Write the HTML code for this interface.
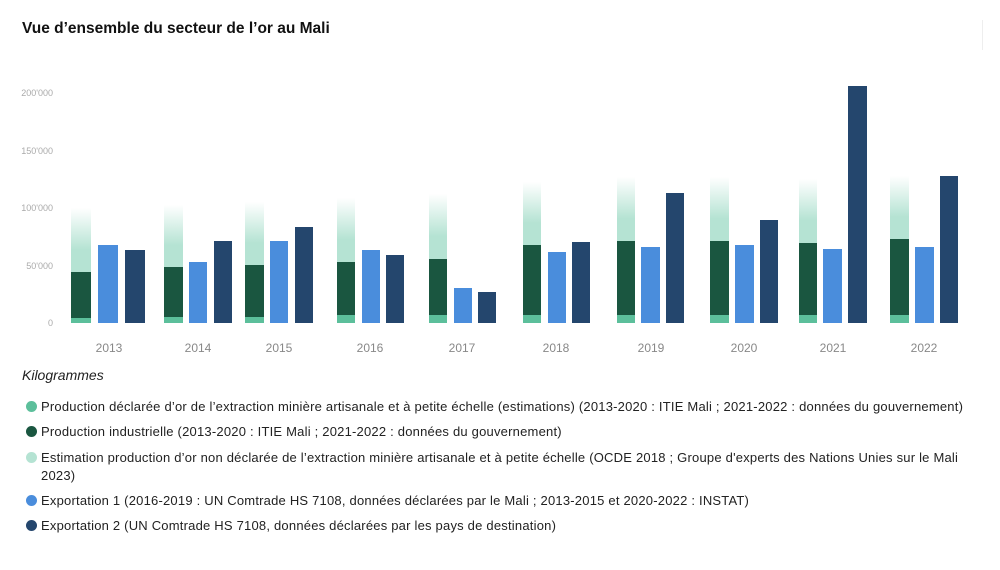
<!DOCTYPE html>
<html><head><meta charset="utf-8"><style>
body{margin:0;width:1000px;height:570px;background:#fff;font-family:"Liberation Sans",sans-serif;position:relative;overflow:hidden}
.t{position:absolute;left:22px;top:20px;font-size:15.5px;font-weight:bold;color:#111}
.k{position:absolute;left:22px;top:367px;font-size:14px;font-style:italic;color:#222}
.l{position:absolute;left:41px;font-size:13px;color:#222;line-height:18px;white-space:nowrap;letter-spacing:0.21px}
.d{position:absolute;left:26px;width:11px;height:11px;border-radius:50%}
</style></head><body>
<div class="t">Vue d’ensemble du secteur de l’or au Mali</div>
<div style="position:absolute;left:982px;top:20px;width:1px;height:30px;background:#eee"></div>
<svg width="1000" height="360" style="position:absolute;left:0;top:0">
<defs><linearGradient id="g" x1="0" y1="1" x2="0" y2="0"><stop offset="0" stop-color="#b5e3d3"/><stop offset="0.35" stop-color="#b5e3d3"/><stop offset="1" stop-color="#fff"/></linearGradient></defs>
<g font-size="9" fill="#aaa" text-anchor="end" font-family="Liberation Sans">
<text x="53" y="96">200'000</text><text x="53" y="154">150'000</text><text x="53" y="211">100'000</text><text x="53" y="269">50'000</text><text x="53" y="326">0</text></g>
<g font-size="12" fill="#888" text-anchor="middle" font-family="Liberation Sans">
<text x="109" y="352">2013</text><text x="198" y="352">2014</text><text x="279" y="352">2015</text><text x="370" y="352">2016</text><text x="462" y="352">2017</text><text x="556" y="352">2018</text><text x="651" y="352">2019</text><text x="744" y="352">2020</text><text x="833" y="352">2021</text><text x="924" y="352">2022</text></g>
<g>
<rect x="71" y="208" width="20" height="64" fill="url(#g)"/><rect x="71" y="272" width="20" height="46" fill="#1a5640"/><rect x="71" y="318" width="20" height="5" fill="#5cbf9b"/>
<rect x="164" y="205" width="19" height="62" fill="url(#g)"/><rect x="164" y="267" width="19" height="50" fill="#1a5640"/><rect x="164" y="317" width="19" height="6" fill="#5cbf9b"/>
<rect x="245" y="202" width="19" height="63" fill="url(#g)"/><rect x="245" y="265" width="19" height="52" fill="#1a5640"/><rect x="245" y="317" width="19" height="6" fill="#5cbf9b"/>
<rect x="337" y="198" width="18" height="64" fill="url(#g)"/><rect x="337" y="262" width="18" height="53" fill="#1a5640"/><rect x="337" y="315" width="18" height="8" fill="#5cbf9b"/>
<rect x="429" y="194" width="18" height="65" fill="url(#g)"/><rect x="429" y="259" width="18" height="56" fill="#1a5640"/><rect x="429" y="315" width="18" height="8" fill="#5cbf9b"/>
<rect x="523" y="182" width="18" height="63" fill="url(#g)"/><rect x="523" y="245" width="18" height="70" fill="#1a5640"/><rect x="523" y="315" width="18" height="8" fill="#5cbf9b"/>
<rect x="617" y="177" width="18" height="64" fill="url(#g)"/><rect x="617" y="241" width="18" height="74" fill="#1a5640"/><rect x="617" y="315" width="18" height="8" fill="#5cbf9b"/>
<rect x="710" y="177" width="19" height="64" fill="url(#g)"/><rect x="710" y="241" width="19" height="74" fill="#1a5640"/><rect x="710" y="315" width="19" height="8" fill="#5cbf9b"/>
<rect x="799" y="179" width="18" height="64" fill="url(#g)"/><rect x="799" y="243" width="18" height="72" fill="#1a5640"/><rect x="799" y="315" width="18" height="8" fill="#5cbf9b"/>
<rect x="890" y="176" width="19" height="63" fill="url(#g)"/><rect x="890" y="239" width="19" height="76" fill="#1a5640"/><rect x="890" y="315" width="19" height="8" fill="#5cbf9b"/>
</g>
<g fill="#4a8ddc">
<rect x="98" y="245" width="20" height="78"/><rect x="189" y="262" width="18" height="61"/><rect x="270" y="241" width="18" height="82"/><rect x="362" y="250" width="18" height="73"/><rect x="454" y="288" width="18" height="35"/><rect x="548" y="252" width="18" height="71"/><rect x="641" y="247" width="19" height="76"/><rect x="735" y="245" width="19" height="78"/><rect x="823" y="249" width="19" height="74"/><rect x="915" y="247" width="19" height="76"/>
</g>
<g fill="#24466d">
<rect x="125" y="250" width="20" height="73"/><rect x="214" y="241" width="18" height="82"/><rect x="295" y="227" width="18" height="96"/><rect x="386" y="255" width="18" height="68"/><rect x="478" y="292" width="18" height="31"/><rect x="572" y="242" width="18" height="81"/><rect x="666" y="193" width="18" height="130"/><rect x="760" y="220" width="18" height="103"/><rect x="848" y="86" width="19" height="237"/><rect x="940" y="176" width="18" height="147"/>
</g>
</svg>
<div class="k">Kilogrammes</div>
<div class="d" style="top:401px;background:#5cbf9b"></div><div class="l" style="top:398px">Production déclarée d’or de l’extraction minière artisanale et à petite échelle (estimations) (2013-2020 : ITIE Mali ; 2021-2022 : données du gouvernement)</div>
<div class="d" style="top:426px;background:#1a5640"></div><div class="l" style="top:423px">Production industrielle (2013-2020 : ITIE Mali ; 2021-2022 : données du gouvernement)</div>
<div class="d" style="top:452px;background:#b5e3d3"></div><div class="l" style="top:449px">Estimation production d’or non déclarée de l’extraction minière artisanale et à petite échelle (OCDE 2018 ; Groupe d'experts des Nations Unies sur le Mali<br>2023)</div>
<div class="d" style="top:495px;background:#4a8ddc"></div><div class="l" style="top:492px">Exportation 1 (2016-2019 : UN Comtrade HS 7108, données déclarées par le Mali ; 2013-2015 et 2020-2022 : INSTAT)</div>
<div class="d" style="top:520px;background:#24466d"></div><div class="l" style="top:517px">Exportation 2 (UN Comtrade HS 7108, données déclarées par les pays de destination)</div>
</body></html>
